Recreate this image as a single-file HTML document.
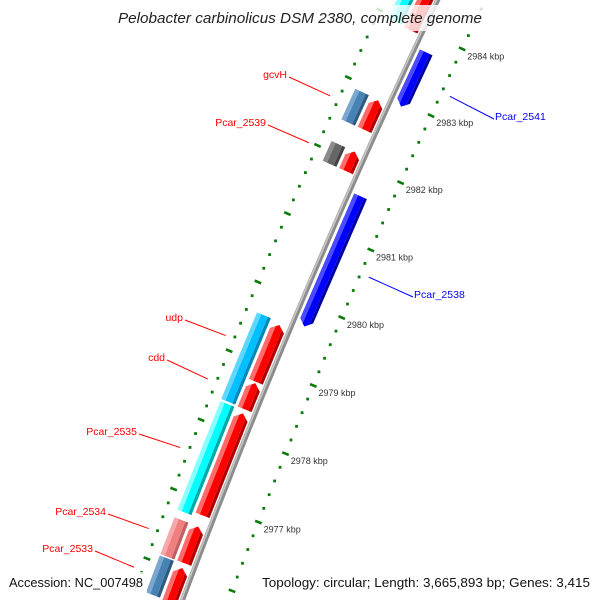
<!DOCTYPE html>
<html><head><meta charset="utf-8"><style>
html,body{margin:0;padding:0;background:#fff;overflow:hidden;width:600px;height:600px;}
svg{display:block;font-family:"Liberation Sans",sans-serif;overflow:hidden;}
</style></head><body>
<svg id="map" width="600" height="600" viewBox="0 0 600 600" xmlns="http://www.w3.org/2000/svg">
<defs><clipPath id="frame"><rect x="0" y="0" width="600" height="600"/></clipPath></defs>
<g clip-path="url(#frame)">
<g id="ticks"></g>
<g id="backbone"></g>
<g id="features"></g>
<g id="labels"></g>
</g>
<rect x="112" y="5" width="376" height="26" fill="#fff" opacity="0.8"/>
<text x="300" y="23" text-anchor="middle" font-size="15" font-style="italic" fill="#222" textLength="364" lengthAdjust="spacingAndGlyphs">Pelobacter carbinolicus DSM 2380, complete genome</text>
<rect x="5" y="572" width="142" height="24" fill="#fff" opacity="0.8"/>
<rect x="258" y="572" width="336" height="24" fill="#fff" opacity="0.8"/>
<text x="9" y="587" font-size="13" fill="#111" textLength="134" lengthAdjust="spacingAndGlyphs">Accession: NC_007498</text>
<text x="262" y="587" font-size="13" fill="#111" textLength="328" lengthAdjust="spacingAndGlyphs">Topology: circular; Length: 3,665,893 bp; Genes: 3,415</text>
</svg>
<script>
// ---- data ----
const featNames = ['top-cds','top-gene','Pcar_2541','gcvH-gene','gcvH','Pcar_2539-gene','Pcar_2539','Pcar_2538','udp-gene','cdd-gene','udp','cdd','Pcar_2535-gene','Pcar_2535','Pcar_2534-gene','Pcar_2534','Pcar_2533-gene','Pcar_2533'];
const featStart = [2983.93,2983.95,2982.94,2982.45,2982.45,2981.84,2981.84,2979.69,2978.74,2978.36,2978.75,2978.35,2976.76,2976.81,2976.12,2976.12,2975.57,2975.52];
const featEnd   = [2985.45,2985.45,2983.75,2982.90,2982.89,2982.13,2982.13,2981.61,2979.62,2978.74,2979.58,2978.73,2978.33,2978.29,2976.65,2976.65,2976.10,2976.05];
const featLane  = [1,2,0,2,1,2,1,0,2,2,1,1,2,1,2,1,2,1];
const featColor = ['red','cyan','blue','steelblue','red','gray','red','blue','deepskyblue','deepskyblue','red','red','cyan','red','lightcoral','red','steelblue','red'];
const featDir   = [0,0,-1,0,1,0,1,-1,0,0,1,1,0,1,0,1,0,1];
const labelText = ['gcvH','Pcar_2539','udp','cdd','Pcar_2535','Pcar_2534','Pcar_2533','Pcar_2541','Pcar_2538'];
const labelK    = [2982.675,2981.985,2979.17,2978.54,2977.55,2976.385,2975.83,2983.345,2980.65];
const labelSide = [1,1,1,1,1,1,1,-1,-1];
const tickMajor = [2977,2978,2979,2980,2981,2982,2983,2984];
const tickLabels= ['2977 kbp','2978 kbp','2979 kbp','2980 kbp','2981 kbp','2982 kbp','2983 kbp','2984 kbp'];
// ---- layout ----
const labelPos = [[289,77],[268,125],[185,320],[167,360],[139,434],[108,514],[95,551],[494,119],[413,297]];
const CX=7201, CY=3230, RB=7495, PHI0=25.27, DEG_PER_KBP=0.566, K0=2984;
const lanes = {0:[7476,7490],1:[7499,7514],2:[7517,7532]};
const shades = {
 red:['#ff6a6a','#ff0000','#b40000'], cyan:['#8affff','#00ffff','#00a8a8'], blue:['#4a4aff','#0000ff','#0000a0'],
 steelblue:['#7aa6d0','#4682b4','#2e5a80'], gray:['#8a8a8a','#666666','#444444'], deepskyblue:['#5fd6ff','#00bfff','#0088bb'],
 lightcoral:['#f7a8a8','#f08080','#c06060']};
const NS='http://www.w3.org/2000/svg';
function pt(k,r){const p=(PHI0-(K0-k)*DEG_PER_KBP)*Math.PI/180;return [CX-r*Math.cos(p),CY-r*Math.sin(p)];}
function mk(tag,attrs,parent){const e=document.createElementNS(NS,tag);for(const a in attrs)e.setAttribute(a,attrs[a]);parent.appendChild(e);return e;}
const P=a=>a.map(p=>p[0].toFixed(2)+','+p[1].toFixed(2)).join(' ');
const inside=p=>p[0]>2&&p[0]<598&&p[1]>2&&p[1]<597;
// ticks
const gT=document.getElementById('ticks');
for(let i=29750;i<=29852;i+=2){
 const k=i/10, major=(i%10===0);
 [7543,7452].forEach((r,ri)=>{
  const c0=pt(k,r); if(!inside(c0))return;
  if(major){const a=pt(k,r-3.5),b=pt(k,r+3.5);
   const l=mk('line',{x1:a[0],y1:a[1],x2:b[0],y2:b[1],stroke:'#0a7a0a','stroke-width':2.6},gT);
   
   
  } else {
   const c=mk('rect',{x:c0[0]-1.4,y:c0[1]-1.4,width:2.8,height:2.8,fill:'#0a7a0a'},gT);
   
   
  }
 });
}
tickMajor.forEach((k,i)=>{const a=pt(k,7448.5);
 const t=mk('text',{x:a[0]+2,y:a[1]+9,'font-size':9,fill:'#333'},gT);t.textContent=tickLabels[i];
 
 
});
// backbone
const gB=document.getElementById('backbone');
function arcPts(r){const a=[];for(let k=2975.5;k<=2985.41;k+=0.2)a.push(pt(k,r));return a;}
const b1=mk('polyline',{points:P(arcPts(RB)),fill:'none',stroke:'#8c8c8c','stroke-width':5},gB);


const b2=mk('polyline',{points:P(arcPts(RB+1.2)),fill:'none',stroke:'#c4c4c4','stroke-width':1.8},gB);


// features
const gF=document.getElementById('features');
const TIP=0.085;
featNames.forEach((n,i)=>{
 const [r1,r2]=lanes[featLane[i]], rm=(r1+r2)/2, half=(r2-r1)/2, k1=featStart[i], k2=featEnd[i], d=featDir[i];
 const w=r2-r1, cuts=[r1,r1+w*0.22,r2-w*0.3,r2];
 const cols=shades[featColor[i]];
 const g=mk('g',{},gF);
 
 
 function endK(r,side){
  const base= side>0?k2:k1;
  if(d===side){return base - side*TIP*Math.abs(r-rm)/half;}
  return base;
 }
 for(let s=0;s<3;s++){
  const ra=cuts[s], rb=cuts[s+1];
  const rs=[ra]; if(rm>ra&&rm<rb)rs.push(rm); rs.push(rb);
  const pts=[];
  rs.forEach(r=>pts.push(pt(endK(r,1),r)));
  rs.slice().reverse().forEach(r=>pts.push(pt(endK(r,-1),r)));
  const col= s===0?cols[2]:(s===1?cols[1]:cols[0]);
  const p=mk('polygon',{points:P(pts),fill:col},g);
  
  
 }
});
// labels
const gL=document.getElementById('labels');
labelText.forEach((t,i)=>{
 const side=labelSide[i], lp=labelPos[i];
 const a=pt(labelK[i], side>0?7552:7443);
 const col= side>0?'#ff0000':'#0000ff';
 const ln=mk('line',{x1:lp[0],y1:lp[1],x2:a[0],y2:a[1],stroke:col,'stroke-width':1},gL);
 
 
 const tx=mk('text',{x: side>0?lp[0]-2:lp[0]+1, y: lp[1]+1,'text-anchor': side>0?'end':'start','font-size':10.5,fill:col},gL);
 tx.textContent=t;
 
 
});
</script>
</body></html>
